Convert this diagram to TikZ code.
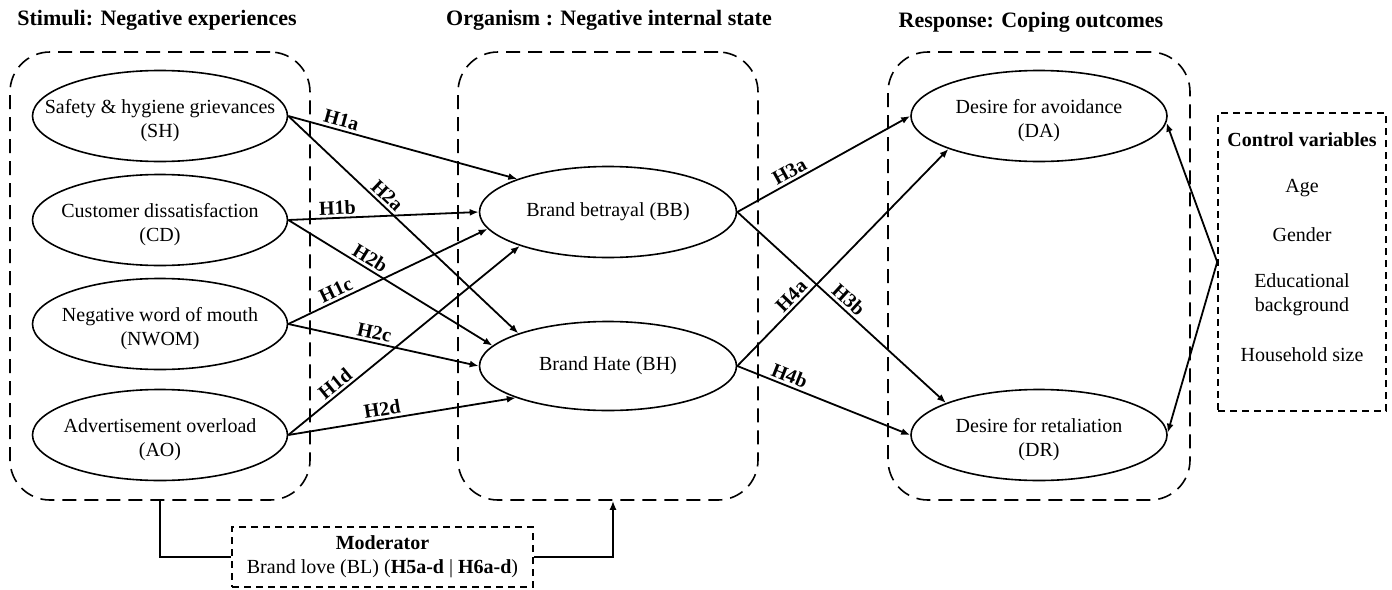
\documentclass[tikz,border=0pt]{standalone}
\usepackage{fontspec}
\setmainfont{Liberation Serif}
\usetikzlibrary{shapes.geometric,arrows.meta}
\begin{document}
\begin{tikzpicture}[x=1pt,y=-1pt,
 ell/.style={ellipse,draw,line width=1.6pt,minimum width=255pt,minimum height=91pt,inner sep=0pt},
 etxt/.style={label={[align=center,font=\fontsize{20}{24}\selectfont,yshift=-5pt]center:#1}},
 etxtone/.style={label={[font=\fontsize{20}{24}\selectfont]center:#1}},
 grp/.style={draw,line width=1.6pt,rounded corners=40pt,dash pattern=on 14pt off 8pt,minimum width=300pt,minimum height=448pt,inner sep=0pt},
 sbox/.style={draw,line width=1.6pt,dash pattern=on 7pt off 5pt,inner sep=0pt},
 arr/.style={-{Latex[length=9pt,width=7pt]},line width=1.8pt},
 conn/.style={line width=1.8pt},
 lab/.style={font=\fontsize{20}{22}\selectfont\bfseries,sloped,above,inner sep=2.5pt},
 ttl/.style={font=\fontsize{22}{24}\selectfont\bfseries},
 txt/.style={font=\fontsize{20}{24}\selectfont}
]
\useasboundingbox (0,0) rectangle (1392,589);
% titles
\node[ttl] (T1) at (157,20) {Stimuli: Negative experiences};
\node[ttl] (T2) at (609,20) {Organism : Negative internal state};
\node[ttl] (T3) at (1031,22) {Response: Coping outcomes};
% groups
\node[grp] (G1) at (160,276) {};
\node[grp] (G2) at (608,276) {};
\node[grp,minimum width=302pt] (G3) at (1039,276) {};
% stimuli
\node[ell,etxt={Safety \& hygiene grievances\\(SH)}] (SH) at (160,116) {};
\node[ell,etxt={Customer dissatisfaction\\(CD)}] (CD) at (160,220) {};
\node[ell,etxt={Negative word of mouth\\(NWOM)}] (NWOM) at (160,324) {};
\node[ell,etxt={Advertisement overload\\(AO)}] (AO) at (160,435) {};
% organism
\node[ell,minimum width=257pt,etxtone={Brand betrayal (BB)}] (BB) at (608,212) {};
\node[ell,minimum width=257pt,minimum height=89pt,etxtone={Brand Hate (BH)}] (BH) at (608,366) {};
% response
\node[ell,minimum width=256pt,etxt={Desire for avoidance\\(DA)}] (DA) at (1039,116) {};
\node[ell,minimum width=256pt,etxt={Desire for retaliation\\(DR)}] (DR) at (1039,435) {};
% control variables
\node[sbox,minimum width=168pt,minimum height=298pt] (CV) at (1302,262) {};
\node[txt,font=\fontsize{20}{24}\selectfont\bfseries] (CV1) at (1302,140) {Control variables};
\node[txt] (CV2) at (1302,188) {Age};
\node[txt] (CV3) at (1302,235) {Gender};
\node[txt,align=center] (CV4) at (1302,295) {Educational\\background};
\node[txt] (CV5) at (1302,355) {Household size};
\coordinate (J) at (CV.west);
\draw[arr] (J) -- (DA.-3);
\draw[arr] (J) -- (DR.1);
% moderator
\node[sbox,minimum width=301pt,minimum height=60pt,align=center,font=\fontsize{20}{24}\selectfont] (MOD) at (382.5,557)
 {\textbf{Moderator}\\Brand love (BL) (\textbf{H5a-d} | \textbf{H6a-d})};
\draw[conn] (G1.south) |- (MOD.west);
\draw[arr] (MOD.east) -| ([xshift=5pt]G2.south);
% stimuli -> organism
\draw[arr] (SH.east) -- (BB.160) node[lab,pos=0.22]{H1a};
\draw[arr] (SH.east) -- (BH.160) node[lab,pos=0.40]{H2a};
\draw[arr] (CD.east) -- (BB.180) node[lab,pos=0.26]{H1b};
\draw[arr] (CD.east) -- (BH.170) node[lab,pos=0.375]{H2b};
\draw[arr] (NWOM.east) -- (BB.188) node[lab,pos=0.26]{H1c};
\draw[arr] (NWOM.east) -- (BH.180) node[lab,pos=0.44]{H2c};
\draw[arr] (AO.east) -- (BB.201) node[lab,pos=0.23]{H1d};
\draw[arr] (AO.east) -- (BH.199) node[lab,pos=0.42]{H2d};
% organism -> response
\draw[arr] (BB.east) -- (DA.180) node[lab,pos=0.33]{H3a};
\draw[arr] (BB.east) -- (DR.161) node[lab,pos=0.50]{H3b};
\draw[arr] (BH.east) -- (DA.200) node[lab,pos=0.29]{H4a};
\draw[arr] (BH.east) -- (DR.180) node[lab,pos=0.28]{H4b};
\end{tikzpicture}
\end{document}
